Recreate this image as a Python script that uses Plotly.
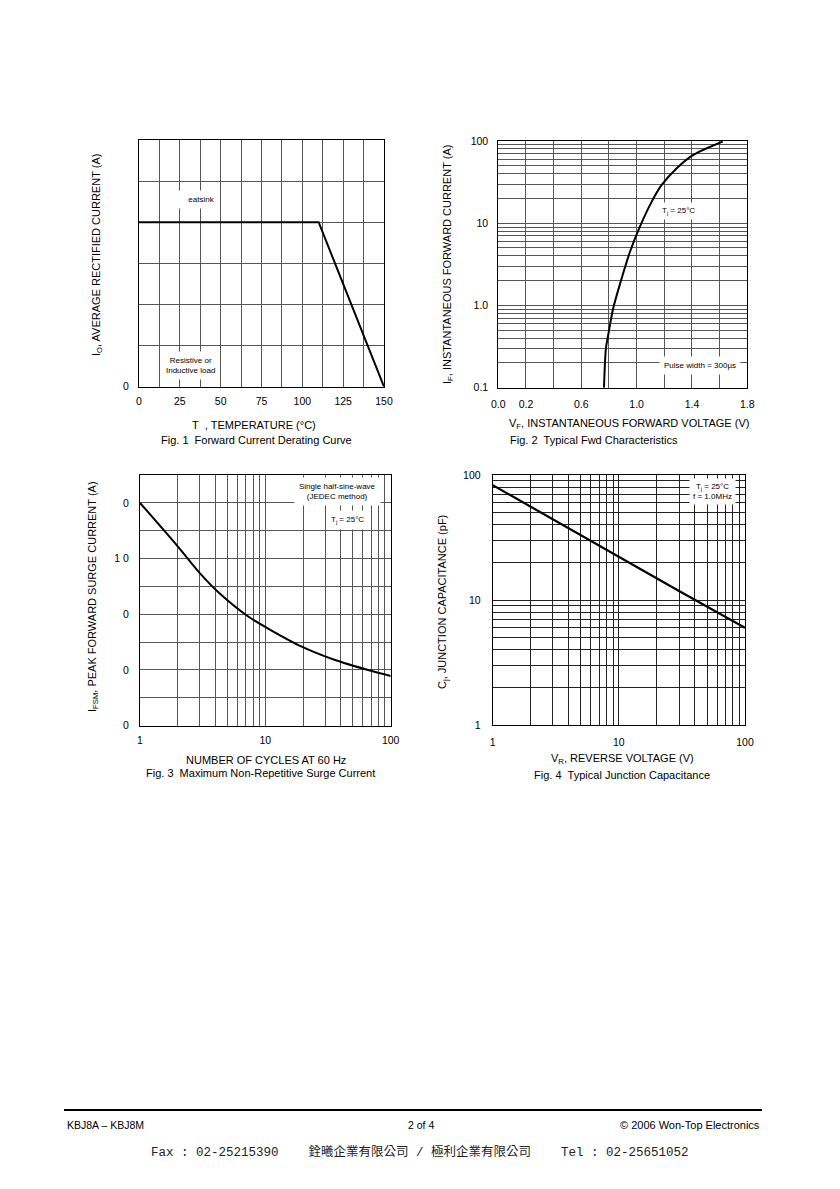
import plotly.graph_objects as go

W, H = 840, 1189
OFF = 8  # page body margin of the browser, compensated in positions
FONT = "Liberation Sans, Arial, sans-serif"

# ---------------- data ----------------
# Fig. 1 Forward Current Derating Curve
fig1_temp = [0, 110, 150]
fig1_current = [8, 8, 0]
fig1_xtickvals = [0, 25, 50, 75, 100, 125, 150]
fig1_xticktext = ["0", "25", "50", "75", "100", "125", "150"]
fig1_xgrid = [12.5, 37.5, 62.5, 87.5, 112.5, 137.5]
fig1_ytickvals = [0]
fig1_yticktext = ["0"]
fig1_ygrid = [2, 4, 6, 8, 10, 12]

# Fig. 2 Typical Forward Characteristics
fig2_vf = [0.764, 0.778, 0.795, 0.831, 0.892, 0.952, 1.019, 1.109, 1.181, 1.290, 1.410, 1.622]
fig2_if = [0.1, 0.3, 0.44, 0.93, 2.14, 4.5, 8.7, 18.3, 29.2, 46.7, 67.8, 98.4]
fig2_xtickvals = [0.0, 0.2, 0.6, 1.0, 1.4, 1.8]
fig2_xticktext = ["0.0", "0.2", "0.6", "1.0", "1.4", "1.8"]
fig2_xgrid = [0.4, 0.8, 1.2, 1.6]
fig2_ytickvals = [0.1, 1, 10, 100]
fig2_yticktext = ["0.1", "1.0", "10", "100"]
fig2_ygrid = [m * d for d in (0.1, 1, 10) for m in range(2, 10)]

# Fig. 3 Maximum Non-Repetitive Surge Current
fig3_cycles = [1, 2, 3, 4.2, 7.3, 10.6, 19.5, 36, 66, 100]
fig3_ifsm = [200, 161, 137, 120, 98, 87, 71, 59, 50, 44.6]
fig3_xtickvals = [1, 10, 100]
fig3_xticktext = ["1", "10", "100"]
fig3_xgrid = [m * d for d in (1, 10) for m in range(2, 10)]
fig3_ytickvals = [0, 50, 100, 150, 200]
fig3_yticktext = ["0", "0", "0", "1 0", "0"]
fig3_ygrid = [25, 75, 125, 175, 225]

# Fig. 4 Typical Junction Capacitance
fig4_vr = [1, 3, 10, 30, 100]
fig4_cj = [83, 44, 22.3, 11.8, 6.0]
fig4_xtickvals = [1, 10, 100]
fig4_xticktext = ["1", "10", "100"]
fig4_xgrid = [m * d for d in (1, 10) for m in range(2, 10)]
fig4_ytickvals = [1, 10, 100]
fig4_yticktext = ["1", "10", "100"]
fig4_ygrid = [m * d for d in (1, 10) for m in range(2, 10)]


# ---------------- helpers ----------------
def px(x):
    return (x - OFF) / W


def py(y):
    return 1 - (y - OFF) / H


def xdom(a, b):
    return [px(a), px(b)]


def ydom(top, bottom):
    return [py(bottom), py(top)]


def axis(domain, anchor, tickvals, ticktext, grid, gridcolor="#555", log=False, rng=None, standoff=6):
    d = dict(
        domain=domain, anchor=anchor, automargin=False,
        tickmode="array", tickvals=tickvals, ticktext=ticktext,
        minor=dict(tickmode="array", tickvals=grid, showgrid=True, gridcolor=gridcolor,
                   gridwidth=1, ticks=""),
        showline=True, mirror=True, linecolor="black", linewidth=1,
        showgrid=True, gridcolor=gridcolor, gridwidth=1,
        zeroline=False, ticks="", ticklabelstandoff=standoff,
        tickfont=dict(family=FONT, size=10.5, color="black"),
        fixedrange=True,
    )
    if log:
        d["type"] = "log"
    if rng is not None:
        d["range"] = rng
    return d


fig = go.Figure()

fig.add_trace(go.Scatter(x=fig1_temp, y=fig1_current, mode="lines",
                         line=dict(color="black", width=2), xaxis="x", yaxis="y"))
fig.add_trace(go.Scatter(x=fig2_vf, y=fig2_if, mode="lines",
                         line=dict(color="black", width=2, shape="spline", smoothing=0.8), xaxis="x2", yaxis="y2"))
fig.add_trace(go.Scatter(x=fig3_cycles, y=fig3_ifsm, mode="lines",
                         line=dict(color="black", width=2, shape="spline", smoothing=0.8), xaxis="x3", yaxis="y3"))
fig.add_trace(go.Scatter(x=fig4_vr, y=fig4_cj, mode="lines",
                         line=dict(color="black", width=2.2), xaxis="x4", yaxis="y4"))

layout = dict(
    width=W, height=H, autosize=False,
    margin=dict(l=0, r=0, t=0, b=0, pad=0),
    paper_bgcolor="white", plot_bgcolor="white",
    showlegend=False,
    font=dict(family=FONT, color="black"),
    xaxis=axis(xdom(139, 384), "y", fig1_xtickvals, fig1_xticktext, fig1_xgrid, rng=[0, 150], standoff=5),
    yaxis=axis(ydom(140, 386.7), "x", fig1_ytickvals, fig1_yticktext, fig1_ygrid, rng=[0, 12], standoff=7),
    xaxis2=axis(xdom(498.3, 747.3), "y2", fig2_xtickvals, fig2_xticktext, fig2_xgrid, rng=[0, 1.8], standoff=7),
    yaxis2=axis(ydom(141, 387.7), "x2", fig2_ytickvals, fig2_yticktext, fig2_ygrid, log=True, rng=[-1, 2], standoff=7),
    xaxis3=axis(xdom(140, 390.7), "y3", fig3_xtickvals, fig3_xticktext, fig3_xgrid, log=True, rng=[0, 2], standoff=5),
    yaxis3=axis(ydom(475, 725.7), "x3", fig3_ytickvals, fig3_yticktext, fig3_ygrid, rng=[0, 225], standoff=8),
    xaxis4=axis(xdom(492.7, 745), "y4", fig4_xtickvals, fig4_xticktext, fig4_xgrid, gridcolor="#222", log=True, rng=[0, 2], standoff=7),
    yaxis4=axis(ydom(475, 725), "x4", fig4_ytickvals, fig4_yticktext, fig4_ygrid, gridcolor="#222", log=True, rng=[0, 2], standoff=9),
)

annotations = []


def note(x, y, text, size=11, angle=0, bg=None, xanchor="center", align="center", pad=1, font=FONT, color="black"):
    a = dict(x=px(x), y=py(y), xref="paper", yref="paper", text=text, showarrow=False,
             font=dict(family=font, size=size, color=color), textangle=angle,
             xanchor=xanchor, yanchor="middle", align=align, borderpad=pad)
    if bg:
        a["bgcolor"] = bg
    annotations.append(a)


NB = "\u00a0"

# Fig 1 texts
note(97, 255, "I<sub>O</sub>, AVERAGE RECTIFIED CURRENT (A)", angle=-90)
note(254, 425, "T" + NB * 2 + ", TEMPERATURE (°C)")
note(256, 440, "Fig. 1" + NB * 2 + "Forward Current Derating Curve")
note(195, 200, NB * 6 + "eatsink", size=8, bg="white", pad=4)
note(190, 365, "Resistive or<br>Inductive load", size=8, bg="white", pad=4)

# Fig 2 texts
note(448, 265, "I<sub>F</sub>, INSTANTANEOUS FORWARD CURRENT (A)", angle=-90)
note(507, 424, "V<sub>F</sub>, INSTANTANEOUS FORWARD VOLTAGE (V)", xanchor="left")
note(508, 440, "Fig. 2" + NB * 2 + "Typical Fwd Characteristics", xanchor="left")
note(678, 211, "T<sub>j</sub> = 25°C", size=8, bg="white", pad=3)
note(700, 365, "Pulse width = 300µs", size=8, bg="white", pad=4)

# Fig 3 texts
note(93, 597, "I<sub>FSM</sub>, PEAK FORWARD SURGE CURRENT (A)", angle=-90)
note(266, 760, "NUMBER OF CYCLES AT 60 Hz")
note(260, 773, "Fig. 3" + NB * 2 + "Maximum Non-Repetitive Surge Current")
note(337, 491, "Single half-sine-wave<br>(JEDEC method)", size=8, bg="white", pad=4)
note(347, 520, "T<sub>j</sub> = 25°C", size=8, bg="white", pad=4)

# Fig 4 texts
note(443, 602, "C<sub>j</sub>, JUNCTION CAPACITANCE (pF)", angle=-90)
note(622, 759, "V<sub>R</sub>, REVERSE VOLTAGE (V)")
note(622, 775, "Fig. 4" + NB * 2 + "Typical Junction Capacitance")
note(712, 491, "T<sub>j</sub> = 25°C<br>f = 1.0MHz", size=8, bg="white", pad=3)

# Footer
note(65, 1125, "KBJ8A – KBJ8M", size=10.5, xanchor="left")
note(421, 1125, "2 of 4", size=10.5)
note(762, 1125, "© 2006 Won-Top Electronics", size=11, xanchor="right")
note(420, 1152,
     "Fax : 02-25215390" + NB * 4 + "銓曦企業有限公司 / 極利企業有限公司" + NB * 4 + "Tel : 02-25651052",
     size=12.5, font="Liberation Mono, Noto Sans CJK TC, monospace", color="#222")

layout["annotations"] = annotations
layout["shapes"] = [dict(type="line", xref="paper", yref="paper", x0=px(64), x1=px(762),
                         y0=py(1110), y1=py(1110), line=dict(color="black", width=2))]

fig.update_layout(**layout)
fig.write_html("out.html")
